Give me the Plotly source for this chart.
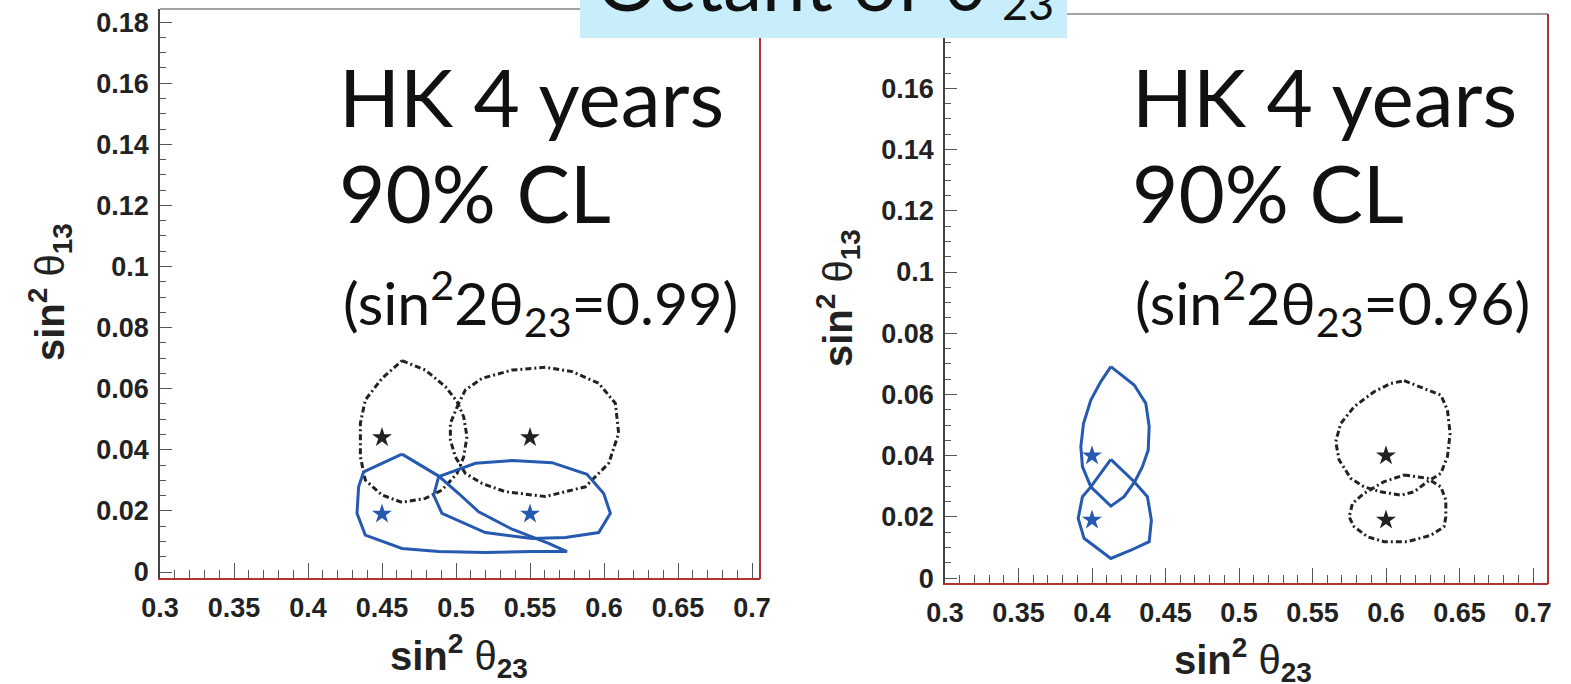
import plotly.graph_objects as go

W, H = 1571, 684

# ---- left panel (sin^2 2theta23 = 0.99): 90% CL outlines ----
left_black_a_x = [0.4635, 0.4793, 0.4928, 0.5007, 0.5052, 0.5074, 0.5052, 0.5007, 0.4905, 0.4793,
                  0.4635, 0.4500, 0.4387, 0.4354, 0.4354, 0.4387, 0.4500, 0.4635]
left_black_a_y = [0.0692, 0.0661, 0.0607, 0.0558, 0.0508, 0.0443, 0.0377, 0.0323, 0.0268, 0.0241,
                  0.0228, 0.0252, 0.0301, 0.0377, 0.0487, 0.0563, 0.0634, 0.0692]

left_black_b_x = [0.5018, 0.4962, 0.4962, 0.4996, 0.5063, 0.5176, 0.5333, 0.5604, 0.5874, 0.6032,
                  0.6099, 0.6077, 0.5964, 0.5784, 0.5604, 0.5379, 0.5176, 0.5063, 0.5018]
left_black_b_y = [0.0552, 0.0487, 0.0432, 0.0377, 0.0323, 0.0290, 0.0263, 0.0247, 0.0279, 0.0356,
                  0.0454, 0.0552, 0.0618, 0.0656, 0.0670, 0.0661, 0.0634, 0.0596, 0.0552]

left_blue_a_x = [0.4635, 0.4883, 0.5018, 0.5153, 0.5379, 0.5626, 0.5750, 0.5514, 0.5198, 0.4883,
                 0.4635, 0.4387, 0.4331, 0.4342, 0.4376, 0.4635]
left_blue_a_y = [0.0386, 0.0314, 0.0257, 0.0197, 0.0140, 0.0094, 0.0067, 0.0067, 0.0064, 0.0067,
                 0.0077, 0.0121, 0.0192, 0.0279, 0.0328, 0.0386]

left_blue_b_x = [0.4883, 0.5131, 0.5379, 0.5649, 0.5885, 0.5998, 0.6043, 0.5964, 0.5739, 0.5514,
                 0.5198, 0.4905, 0.4849, 0.4883]
left_blue_b_y = [0.0312, 0.0356, 0.0365, 0.0358, 0.0320, 0.0257, 0.0192, 0.0129, 0.0113, 0.0110,
                 0.0129, 0.0192, 0.0252, 0.0312]

left_black_star_x = [0.45, 0.55]
left_black_star_y = [0.044, 0.044]
left_blue_star_x = [0.45, 0.55]
left_blue_star_y = [0.019, 0.019]

# ---- right panel (sin^2 2theta23 = 0.96): 90% CL outlines ----
right_blue_a_x = [0.4128, 0.4287, 0.4366, 0.4389, 0.4382, 0.4343, 0.4291, 0.4218, 0.4128, 0.4060,
                  0.3992, 0.3935, 0.3924, 0.3942, 0.3992, 0.4060, 0.4128]
right_blue_a_y = [0.0691, 0.0631, 0.0571, 0.0495, 0.0418, 0.0364, 0.0315, 0.0266, 0.0235, 0.0266,
                  0.0298, 0.0364, 0.0429, 0.0505, 0.0582, 0.0642, 0.0691]

right_blue_b_x = [0.4128, 0.4287, 0.4377, 0.4404, 0.4389, 0.4264, 0.4128, 0.3946, 0.3906, 0.3935,
                  0.3992, 0.4128]
right_blue_b_y = [0.0388, 0.0315, 0.0266, 0.0189, 0.0119, 0.0091, 0.0064, 0.0130, 0.0195, 0.0266,
                  0.0298, 0.0388]

right_black_a_x = [0.6123, 0.6373, 0.6418, 0.6436, 0.6418, 0.6373, 0.6282, 0.6191, 0.6101, 0.5965,
                   0.5851, 0.5760, 0.5681, 0.5658, 0.5692, 0.5783, 0.5919, 0.6033, 0.6123]
right_black_a_y = [0.0645, 0.0598, 0.0549, 0.0473, 0.0397, 0.0342, 0.0315, 0.0282, 0.0271, 0.0282,
                   0.0298, 0.0326, 0.0386, 0.0446, 0.0505, 0.0560, 0.0609, 0.0636, 0.0645]

right_black_b_x = [0.6123, 0.6282, 0.6373, 0.6407, 0.6407, 0.6395, 0.6305, 0.6146, 0.5987, 0.5874,
                   0.5783, 0.5749, 0.5772, 0.5851, 0.5987, 0.6123]
right_black_b_y = [0.0337, 0.0326, 0.0298, 0.0255, 0.0200, 0.0168, 0.0140, 0.0119, 0.0119, 0.0135,
                   0.0168, 0.0200, 0.0244, 0.0277, 0.0315, 0.0337]

right_blue_star_x = [0.4, 0.4]
right_blue_star_y = [0.04, 0.019]
right_black_star_x = [0.6, 0.6]
right_black_star_y = [0.04, 0.019]

x_ticks = [0.3, 0.35, 0.4, 0.45, 0.5, 0.55, 0.6, 0.65, 0.7]
y_ticks = [0, 0.02, 0.04, 0.06, 0.08, 0.1, 0.12, 0.14, 0.16, 0.18]

BLUE = "#2659b0"
BLACK = "#222222"
DASHDOT = "6px,3px,2px,3px"

fig = go.Figure()


def outline(xs, ys, color, dash, xa, ya):
    fig.add_trace(go.Scatter(x=xs, y=ys, mode="lines", xaxis=xa, yaxis=ya,
                             line=dict(color=color, width=3, dash=dash),
                             hoverinfo="skip", showlegend=False))


def stars(xs, ys, color, xa, ya):
    fig.add_trace(go.Scatter(x=xs, y=ys, mode="markers", xaxis=xa, yaxis=ya,
                             marker=dict(symbol="star", size=15, color=color,
                                         line=dict(width=0)),
                             hoverinfo="skip", showlegend=False))


outline(left_black_a_x, left_black_a_y, BLACK, DASHDOT, "x", "y")
outline(left_black_b_x, left_black_b_y, BLACK, DASHDOT, "x", "y")
outline(left_blue_a_x, left_blue_a_y, BLUE, "solid", "x", "y")
outline(left_blue_b_x, left_blue_b_y, BLUE, "solid", "x", "y")
stars(left_black_star_x, left_black_star_y, BLACK, "x", "y")
stars(left_blue_star_x, left_blue_star_y, BLUE, "x", "y")

outline(right_blue_a_x, right_blue_a_y, BLUE, "solid", "x2", "y2")
outline(right_blue_b_x, right_blue_b_y, BLUE, "solid", "x2", "y2")
outline(right_black_a_x, right_black_a_y, BLACK, DASHDOT, "x2", "y2")
outline(right_black_b_x, right_black_b_y, BLACK, DASHDOT, "x2", "y2")
stars(right_blue_star_x, right_blue_star_y, BLUE, "x2", "y2")
stars(right_black_star_x, right_black_star_y, BLACK, "x2", "y2")


def px(v):
    return v / W


def py(v):
    return 1 - v / H


TICKFONT = dict(family="Liberation Sans", size=27, color="#222222", weight="bold")
FRAME_RED = "#b03434"


def xaxis(domain, rng, anchor):
    return dict(domain=domain, range=rng, anchor=anchor, tickvals=x_ticks,
                ticks="inside", ticklen=15, tickwidth=1, tickcolor="#555555",
                minor=dict(dtick=0.01, tick0=0.3, ticks="inside", ticklen=8,
                           tickwidth=1, tickcolor="#555555"),
                showline=True, linecolor=FRAME_RED, linewidth=2,
                showgrid=False, zeroline=False, tickfont=TICKFONT,
                ticklabelstandoff=5, automargin=False, fixedrange=True)


def yaxis(domain, rng, anchor):
    return dict(domain=domain, range=rng, anchor=anchor, tickvals=y_ticks,
                ticks="inside", ticklen=12, tickwidth=1, tickcolor="#555555",
                minor=dict(dtick=0.005, tick0=0, ticks="inside", ticklen=6,
                           tickwidth=1, tickcolor="#555555"),
                showline=True, linecolor="#444444", linewidth=1.5,
                showgrid=False, zeroline=False, tickfont=TICKFONT,
                ticklabelstandoff=4, automargin=False, fixedrange=True)


fig.update_layout(
    width=W, height=H,
    margin=dict(l=0, r=0, t=0, b=0),
    paper_bgcolor="white", plot_bgcolor="white",
    xaxis=xaxis([px(160), px(760)], [0.3, 0.7054], "y"),
    yaxis=yaxis([py(578), py(9)], [-0.00196, 0.1843], "x"),
    xaxis2=xaxis([px(945), px(1548)], [0.3, 0.7102], "y2"),
    yaxis2=yaxis([py(583), py(14)], [-0.0016, 0.1843], "x2"),
)

shapes = [
    # frame edges not drawn by the axes
    dict(type="line", xref="paper", yref="paper", x0=px(160), x1=px(760), y0=py(9), y1=py(9),
         line=dict(color="#444444", width=1)),
    dict(type="line", xref="paper", yref="paper", x0=px(760), x1=px(760), y0=py(579), y1=py(9),
         line=dict(color=FRAME_RED, width=2)),
    dict(type="line", xref="paper", yref="paper", x0=px(945), x1=px(1548), y0=py(14), y1=py(14),
         line=dict(color="#444444", width=1)),
    dict(type="line", xref="paper", yref="paper", x0=px(1548), x1=px(1548), y0=py(584), y1=py(14),
         line=dict(color=FRAME_RED, width=2)),
    # title banner
    dict(type="rect", xref="paper", yref="paper", x0=px(580), x1=px(1067), y0=py(38), y1=1.05,
         fillcolor="#c8eefc", line=dict(width=0), layer="above"),
]
fig.update_layout(shapes=shapes)

BIG = "Lato"
annotations = [
    # banner title; the subscript is set separately so it sits just below the baseline
    dict(text="Octant of θ", x=px(594), y=py(30), xanchor="left", yanchor="bottom",
         font=dict(family=BIG, size=78, color="#111111")),
    dict(text="23", x=px(1000), y=py(32), xanchor="left", yanchor="bottom",
         font=dict(family=BIG, size=45, color="#111111")),
]

for x0, ratio, xr in [(337, "0.99", 341), (1130, "0.96", 1133)]:
    annotations += [
        dict(text="HK 4 years", x=px(x0), y=py(96), xanchor="left", yanchor="middle",
             font=dict(family=BIG, size=80, color="#111111")),
        dict(text="90% CL", x=px(x0), y=py(192), xanchor="left", yanchor="middle",
             font=dict(family=BIG, size=80, color="#111111")),
        dict(text="(sin<sup>2</sup>2θ<sub>23</sub>=" + ratio + ")", x=px(xr), y=py(303),
             xanchor="left", yanchor="middle",
             font=dict(family=BIG, size=59, color="#111111")),
    ]

AXFONT = dict(family="Liberation Sans", size=40, color="#222222", weight="bold")
xtitle = "sin<sup>2</sup> <span style='font-weight:normal'>θ</span><sub>23</sub>"
ytitle = "sin<sup>2</sup> <span style='font-weight:normal'>θ</span><sub>13</sub>"
annotations += [
    dict(text=xtitle, x=px(459), y=py(656), xanchor="center", yanchor="middle", font=AXFONT),
    dict(text=xtitle, x=px(1243), y=py(660), xanchor="center", yanchor="middle", font=AXFONT),
    dict(text=ytitle, x=px(50), y=py(292), xanchor="center", yanchor="middle",
         textangle=-90, font=AXFONT),
    dict(text=ytitle, x=px(838), y=py(298), xanchor="center", yanchor="middle",
         textangle=-90, font=AXFONT),
]
for a in annotations:
    a.setdefault("xref", "paper")
    a.setdefault("yref", "paper")
    a.setdefault("showarrow", False)
fig.update_layout(annotations=annotations)

fig.write_html("out.html")
